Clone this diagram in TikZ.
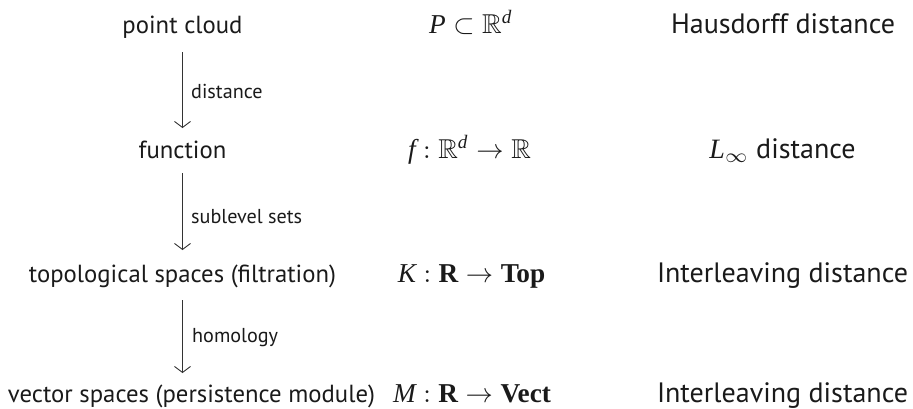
\documentclass[tikz,border=0pt]{standalone}
\usepackage{amsmath}
\usepackage{amssymb}
\usepackage{graphicx}
\usepackage[no-math]{fontspec}
\setmainfont{PT Sans}
\newfontfamily\serifface{Liberation Serif}
\usetikzlibrary{arrows.meta}
\definecolor{ink}{HTML}{1A1A1A}
\definecolor{arrowink}{HTML}{333333}
\newlength\wtmp
\newcommand\vi[1]{\text{\serifface\itshape #1}}
\newcommand\vb[1]{\text{\serifface\bfseries #1}}
\begin{document}
\settowidth\wtmp{\fontsize{10pt}{12pt}\selectfont Interleaving distance}%
\pgfmathsetmacro\szR{10*251/\wtmp}%
\settowidth\wtmp{\fontsize{10pt}{12pt}\selectfont vector spaces (persistence module)}%
\pgfmathsetmacro\szL{10*367/\wtmp}%
\settowidth\wtmp{\fontsize{10pt}{12pt}\selectfont sublevel sets}%
\pgfmathsetmacro\szA{10*111/\wtmp}%
\settowidth\wtmp{\fontsize{10pt}{12pt}\selectfont $\vi{M}:\vb{R}\to\vb{Vect}$}%
\pgfmathsetmacro\scM{158/\wtmp}%
\pgfmathsetmacro\scL{\szR/10}%
\newcommand\mathscaled[1]{\scalebox{\scM}{\fontsize{10pt}{12pt}\selectfont$#1$}}%
\newcommand\mathright[1]{\scalebox{\scL}{\fontsize{10pt}{12pt}\selectfont$#1$}}%
\begin{tikzpicture}[x=1pt,y=-1pt]
\tikzset{
  lcol/.style={anchor=base, inner sep=0pt, text=ink, font=\fontsize{\szL pt}{\szL pt}\selectfont},
  mcol/.style={anchor=base, inner sep=0pt, text=ink},
  rcol/.style={anchor=base, inner sep=0pt, text=ink, font=\fontsize{\szR pt}{\szR pt}\selectfont},
  lab/.style={anchor=base west, inner sep=0pt, text=ink, font=\fontsize{\szA pt}{\szA pt}\selectfont},
  arr/.style={draw=arrowink, line width=0.9pt, -{Straight Barb[length=6pt,width=16pt,line width=0.9pt]}}
}
\useasboundingbox (0,0) rectangle (913,408);
% left column
\node[lcol] (pc) at (182.5,33) {point cloud};
\node[lcol] (fn) at (182.5,158) {function};
\node[lcol] (tp) at (182.5,282) {topological spaces (filtration)};
\node[lcol] (vs) at (191.5,402) {vector spaces (persistence module)};
% middle column
\node[mcol] (mp) at (471,33) {\mathscaled{\vi{P}\subset\mathbb{R}^{\vi{d}}}};
\node[mcol] (mf) at (469.5,158) {\mathscaled{\vi{f}:\mathbb{R}^{\vi{d}}\to\mathbb{R}}};
\node[mcol] (mk) at (471.5,282) {\mathscaled{\vi{K}:\vb{R}\to\vb{Top}}};
\node[mcol] (mm) at (472,402) {\mathscaled{\vi{M}:\vb{R}\to\vb{Vect}}};
% right column
\node[rcol] (rh) at (783,33) {Hausdorff distance};
\node[rcol] (rl) at (782.5,158) {\mathright{\vi{L}_\infty} distance};
\node[rcol] (ri1) at (782.5,282) {Interleaving distance};
\node[rcol] (ri2) at (782.5,402) {Interleaving distance};
% arrows
\coordinate (a1s) at ([yshift=-19pt]pc.base);
\coordinate (a1e) at ([yshift=30pt]fn.base);
\coordinate (a2s) at ([yshift=-15pt]fn.base);
\coordinate (a2e) at ([yshift=32pt]tp.base);
\coordinate (a3s) at ([yshift=-18pt]tp.base);
\coordinate (a3e) at ([yshift=29pt]tp.base |- vs.base);
\draw[arr] (a1s) -- (a1e);
\draw[arr] (a2s) -- (a2e);
\draw[arr] (a3s) -- (a3e);
% arrow labels
\node[lab] (l1) at (191,98) {distance};
\node[lab] (l2) at (191,223) {sublevel sets};
\node[lab] (l3) at (192,342) {homology};
\end{tikzpicture}
\end{document}
